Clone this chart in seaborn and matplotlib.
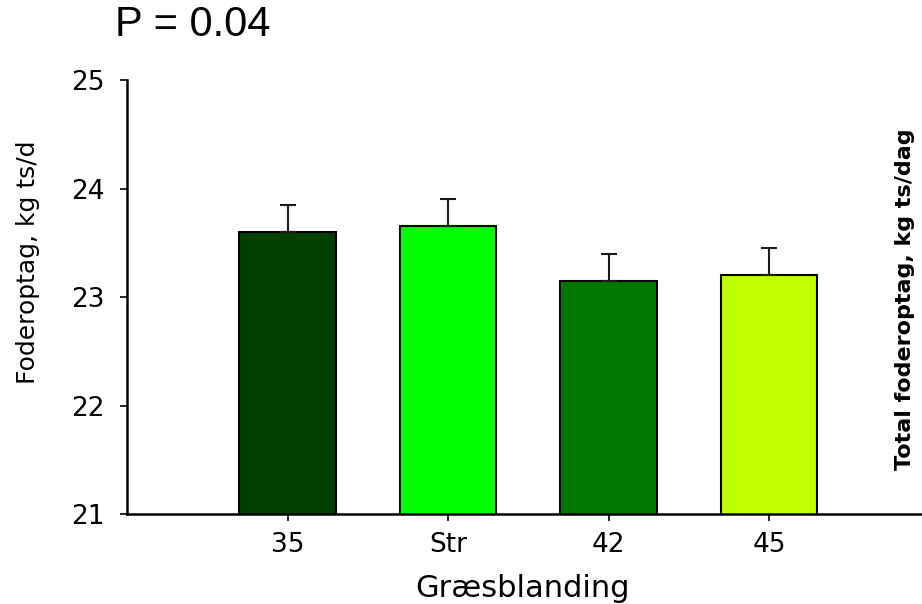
import pandas as pd
import matplotlib
matplotlib.use("Agg")
import matplotlib.pyplot as plt
import seaborn as sns

# data
blandinger = ["35", "Str", "42", "45"]
foderoptag = [23.6, 23.65, 23.15, 23.2]
sem = [0.25, 0.25, 0.25, 0.25]
farver = ["#003f00", "#00ff00", "#007800", "#c0ff00"]

sns.set_style("white")
plt.rcParams["font.family"] = ["DejaVu Sans"]
plt.rcParams["text.color"] = "black"

df = pd.DataFrame({"blanding": blandinger, "foderoptag": foderoptag})

fig = plt.figure(figsize=(9.22, 6.04), dpi=100)
ax = fig.add_axes([0.1377, 0.149, 0.862, 0.7185])

sns.barplot(data=df, x="blanding", y="foderoptag", hue="blanding",
            palette=farver, order=blandinger, hue_order=blandinger,
            width=0.6, saturation=1, edgecolor="black", linewidth=1.5,
            legend=False, errorbar=None, ax=ax)

# error bars (upper only)
ax.errorbar(range(len(blandinger)), foderoptag, yerr=[[0] * len(sem), sem],
            fmt="none", ecolor="#1a1a1a", elinewidth=1.5, capsize=6,
            capthick=1.5, zorder=1)

ax.set_ylim(21, 25)
ax.set_yticks([21, 22, 23, 24, 25])
ax.set_xlim(-1.0, 3.95)
ax.set_xlabel("")
ax.set_ylabel("")

for side in ["top", "right"]:
    ax.spines[side].set_visible(False)
for side in ["left", "bottom"]:
    ax.spines[side].set_linewidth(1.8)
    ax.spines[side].set_color("black")

ax.tick_params(axis="both", direction="out", length=5, width=1.2,
               labelsize=19, colors="black", bottom=True, left=True)
ax.tick_params(axis="x", pad=8)
ax.tick_params(axis="y", pad=11)

fig.text(0.125, 0.958, "P = 0.04", fontsize=30, family="Liberation Sans",
         ha="left", va="center")
fig.text(0.030, 0.566, "Foderoptag, kg ts/d", fontsize=18, rotation=90,
         ha="center", va="center")
fig.text(0.567, 0.026, "Græsblanding", fontsize=22, ha="center", va="center")
fig.text(0.982, 0.505, "Total foderoptag, kg ts/dag", fontsize=16,
         fontweight="bold", rotation=90, ha="center", va="center")

fig.savefig("out.png", dpi=100)
